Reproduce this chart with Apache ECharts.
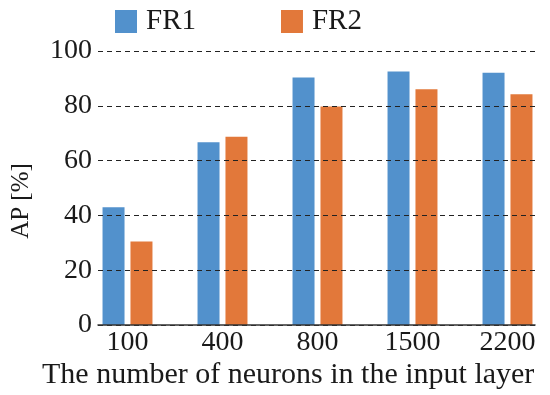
<!DOCTYPE html>
<html>
<head>
<meta charset="utf-8">
<script src="https://cdn.jsdelivr.net/npm/echarts@6/dist/echarts.min.js"></script>
<style>
html,body{margin:0;padding:0;background:#fff;}
#chart{width:550px;height:395px;}
</style>
</head>
<body>
<div id="chart"></div>
<script>
const categories = ['100', '400', '800', '1500', '2200'];
const fr1 = [43.0, 66.7, 90.3, 92.5, 92.1];
const fr2 = [30.5, 68.7, 79.7, 86.0, 84.2];
const yTicks = [0, 20, 40, 60, 80, 100];
const seriesNames = ['FR1', 'FR2'];
const xTitle = 'The number of neurons in the input layer';
const yTitle = 'AP [%]';

const FONT = '"Liberation Serif", "Times New Roman", serif';
const chart = echarts.init(document.getElementById('chart'), null, {renderer: 'canvas'});
chart.setOption({
  animation: false,
  backgroundColor: '#ffffff',
  title: {
    text: xTitle,
    left: 37,
    top: 355,
    textStyle: {fontFamily: FONT, fontSize: 30, fontWeight: 'normal', color: '#1a1a1a'}
  },
  legend: {
    left: 115,
    top: 7,
    padding: 0,
    icon: 'rect',
    itemWidth: 22,
    itemHeight: 23,
    itemGap: 85,
    textStyle: {fontFamily: FONT, fontSize: 29, color: '#1a1a1a', padding: [0, 0, 0, 4]},
    data: seriesNames
  },
  grid: [
    {left: 80, width: 475, top: 51, bottom: 70, containLabel: false, outerBoundsMode: 'none'},
    {left: 98, right: 15, top: 51, bottom: 70, containLabel: false, outerBoundsMode: 'none'}
  ],
  xAxis: [
    {
      type: 'category', gridIndex: 0, data: categories,
      axisLine: {show: false}, axisTick: {show: false},
      axisLabel: {fontFamily: FONT, fontSize: 28, color: '#1a1a1a', margin: 4}
    },
    {
      type: 'category', gridIndex: 1, data: categories, z: 10,
      axisLine: {show: true, lineStyle: {color: '#333', width: 1.5}},
      axisTick: {show: false}, axisLabel: {show: false}, splitLine: {show: false}
    }
  ],
  yAxis: [
    {type: 'value', gridIndex: 0, min: 0, max: 100, interval: 20, show: false, splitLine: {show: false}},
    {
      type: 'value', gridIndex: 1, min: yTicks[0], max: yTicks[yTicks.length - 1], interval: 20, z: 10,
      name: yTitle, nameLocation: 'middle', nameGap: 64, nameRotate: 90,
      nameTextStyle: {fontFamily: FONT, fontSize: 25, color: '#1a1a1a', padding: [0, 26, 0, 0]},
      axisLine: {show: false}, axisTick: {show: false},
      axisLabel: {fontFamily: FONT, fontSize: 28, color: '#1a1a1a', margin: 6},
      splitLine: {show: true, lineStyle: {color: '#222', type: [5, 4], width: 1.2}}
    }
  ],
  series: [
    {name: seriesNames[0], type: 'bar', xAxisIndex: 0, yAxisIndex: 0, data: fr1,
     barWidth: 22, barGap: '27%', itemStyle: {color: '#5291cc'}},
    {name: seriesNames[1], type: 'bar', xAxisIndex: 0, yAxisIndex: 0, data: fr2,
     barWidth: 22, barGap: '27%', itemStyle: {color: '#e2783a'}}
  ]
});
</script>
</body>
</html>
